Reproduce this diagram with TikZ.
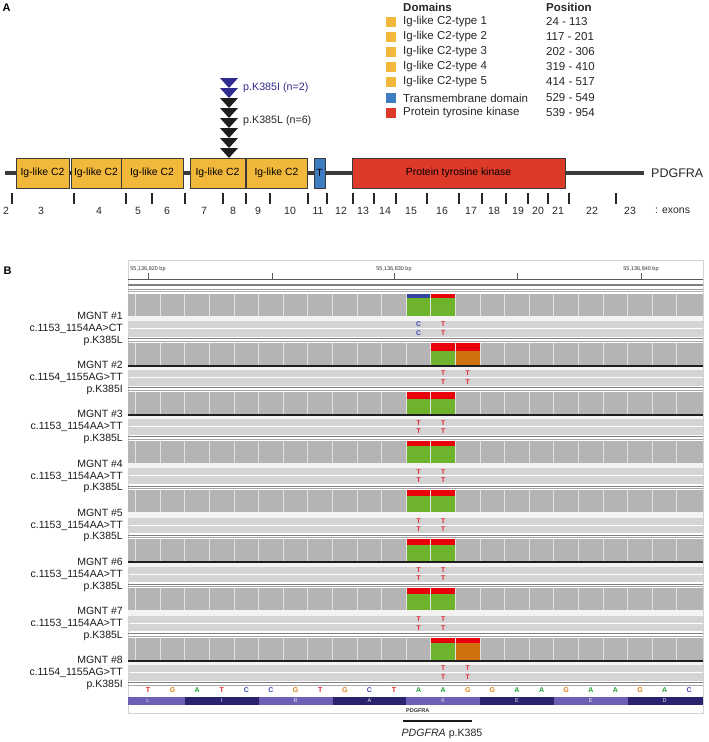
\documentclass[tikz,border=0pt]{standalone}
\usepackage{fontspec}
\setmainfont{Liberation Sans}
\definecolor{igy}{HTML}{F1B83B}
\definecolor{tmb}{HTML}{3F7DC3}
\definecolor{ptk}{HTML}{DD3A2A}
\definecolor{bb}{HTML}{3A3A3A}
\definecolor{mutblue}{HTML}{2F2A8E}
\definecolor{mutblk}{HTML}{1E1E1E}
\definecolor{covg}{HTML}{B4B4B4}
\definecolor{covsep}{HTML}{E2E2E2}
\definecolor{readg}{HTML}{D4D4D4}
\definecolor{gapg}{HTML}{F3F3F3}
\definecolor{vred}{HTML}{E8000B}
\definecolor{vgreen}{HTML}{6DB32C}
\definecolor{vorange}{HTML}{D1700F}
\definecolor{vblue}{HTML}{36459E}
\definecolor{lA}{HTML}{1FA030}
\definecolor{lC}{HTML}{3A46B8}
\definecolor{lG}{HTML}{E0801A}
\definecolor{lT}{HTML}{E8202A}
\definecolor{aal}{HTML}{6E5FB6}
\definecolor{aad}{HTML}{2A226F}
\newcommand\fsz[1]{\fontsize{#1}{#1}\selectfont}
\begin{document}
\begin{tikzpicture}[x=1pt,y=-1pt,every node/.style={inner sep=0pt},
  dombox/.style={draw=bb,line width=0.9pt,minimum height=30pt,font=\fsz{10.4}},
  legsq/.style={minimum width=10pt,minimum height=10pt},
  legtxt/.style={font=\fsz{11.5},anchor=west,text=black!85},
  leghead/.style={font=\bfseries\fsz{11.5},anchor=west,text=black!85},
  exonnum/.style={font=\fsz{10.5},text=black!85},
  exontick/.style={draw=black!85,line width=2pt},
  lbl/.style={font=\fsz{10.5},anchor=base east,text=black!90},
  rulelbl/.style={font=\fsz{5.5},anchor=base,text=black!80},
  seqlet/.style={font=\bfseries\fsz{7}},
  readlet/.style={font=\bfseries\fsz{6.8}},
  aalet/.style={font=\fsz{5.5},text=white!85!gray},
  panlbl/.style={font=\bfseries\fsz{11}}]
\useasboundingbox (0,0) rectangle (709,742);
% ---------- Panel A ----------
\node[panlbl] (pA) at (6.5,7.5) {A};
% legend
\node[leghead] (lhd) at (403,7) {Domains};
\node[leghead] (lhp) at (546,7) {Position};
\foreach \y/\c/\t/\p [count=\n] in {22/igy/Ig-like C2-type 1/24 - 113,
  37/igy/Ig-like C2-type 2/117 - 201,
  52/igy/Ig-like C2-type 3/202 - 306,
  67/igy/Ig-like C2-type 4/319 - 410,
  82/igy/Ig-like C2-type 5/414 - 517,
  98/tmb/Transmembrane domain/529 - 549,
  113/ptk/Protein tyrosine kinase/539 - 954}{
  \node[legsq,fill=\c] (lsq\n) at (391,\y) {};
  \node[legtxt] (ltx\n) at (403,\y) {\t};
  \node[legtxt] (lps\n) at (546,\y) {\p};
}
% mutation triangles
\foreach \i in {0,...,7}{
  \pgfmathsetmacro\ty{78+10*\i}
  \ifnum\i<2 \def\tc{mutblue}\else\def\tc{mutblk}\fi
  \fill[\tc] (220,\ty) -- (238,\ty) -- (229,{\ty+10}) -- cycle;
}
\node[font=\fsz{10.7},text=mutblue,anchor=west] (mI) at (243,88) {p.K385I (n=2)};
\node[font=\fsz{10.7},text=black!85,anchor=west] (mL) at (243,121) {p.K385L (n=6)};
% backbone
\coordinate (bbL) at (5,173);
\coordinate (bbR) at (644,173);
\draw[bb,line width=3.5pt] (bbL) -- (bbR);
\node[dombox,fill=igy,minimum width=53pt] (d1) at (42.5,173) {Ig-like C2};
\node[dombox,fill=igy,minimum width=50pt] (d2) at (96,173) {Ig-like C2};
\node[dombox,fill=igy,minimum width=62pt] (d3) at (152,173) {Ig-like C2};
\node[dombox,fill=igy,minimum width=55pt] (d4) at (217.5,173) {Ig-like C2};
\node[dombox,fill=igy,minimum width=61pt] (d5) at (276.5,173) {Ig-like C2};
\node[dombox,fill=tmb,minimum width=11pt] (dT) at (319.5,173) {T};
\node[dombox,fill=ptk,minimum width=213pt] (dK) at (458.5,173) {Protein tyrosine kinase};
\node[font=\fsz{12.5},anchor=west,text=black!85] (gene) at (651,173) {PDGFRA};
% exon ticks and numbers
\foreach \x in {12,74,126,152,185,223,246,270,308,327,353,374,396,427,459,482,506,528,548,569,616}
  \draw[exontick] (\x,193) -- (\x,204);
\foreach \x/\n in {6/2,41/3,99/4,138/5,167/6,204/7,233/8,258/9,290/10,318/11,341/12,363/13,385/14,411/15,442/16,471/17,494/18,518/19,538/20,558/21,592/22,630/23}
  \node[exonnum] (ex\n) at (\x,211) {\n};
\node[exonnum,anchor=west] (exl) at (655,211) {: exons};
% ---------- Panel B ----------
\node[panlbl] (pB) at (7.5,271) {B};
\fill[white] (128,260) rectangle (703,713);
\draw[gray!35,line width=0.6pt] (128,260) rectangle (703,713);
% ruler
\draw[black!65,line width=0.7pt] (128,279) -- (703,279);
\foreach \x in {148,272,394,517,641}
  \draw[black!65,line width=0.7pt] (\x,273) -- (\x,279);
\node[rulelbl] (r1) at (148,270) {55,136,820 bp};
\node[rulelbl] (r2) at (394,270) {55,136,830 bp};
\node[rulelbl] (r3) at (641,270) {55,136,840 bp};
\draw[black!50,line width=1.8pt] (128,285) -- (703,285);
\draw[black!40,line width=0.7pt] (128,289) -- (703,289);
\draw[black!30,line width=0.7pt] (128,291.5) -- (703,291.5);
% sample blocks
\foreach \k/\ba/\tca/\bcb/\h/\la/\lca/\cl/\pl/\bl in {
  0/11/vblue/vgreen/4.5/C/lC/{c.1153\_1154AA>CT}/p.K385L/0,
  1/12/vred/vorange/8.5/T/lT/{c.1154\_1155AG>TT}/p.K385I/1,
  2/11/vred/vgreen/7.5/T/lT/{c.1153\_1154AA>TT}/p.K385L/1,
  3/11/vred/vgreen/5/T/lT/{c.1153\_1154AA>TT}/p.K385L/0,
  4/11/vred/vgreen/6/T/lT/{c.1153\_1154AA>TT}/p.K385L/0,
  5/11/vred/vgreen/6/T/lT/{c.1153\_1154AA>TT}/p.K385L/1,
  6/11/vred/vgreen/6/T/lT/{c.1153\_1154AA>TT}/p.K385L/0,
  7/12/vred/vorange/5/T/lT/{c.1154\_1155AG>TT}/p.K385I/1}{
  \pgfmathsetmacro\T{293.5+49.15*\k}
  \pgfmathsetmacro\Tb{\T+22}
  \pgfmathsetmacro\Th{\T+\h}
  \pgfmathsetmacro\xa{135.7+24.6*\ba}
  \pgfmathsetmacro\xb{\xa+24.6}
  \pgfmathsetmacro\xc{\xa+49.2}
  \pgfmathtruncatemacro\kk{\k+1}
  \fill[gapg] (128,\Tb) rectangle (703,{\T+27.5});
  \fill[covg] (128,\T) rectangle (703,\Tb);
  \fill[\tca] (\xa,\T) rectangle (\xb,\Th);
  \fill[vgreen] (\xa,\Th) rectangle (\xb,\Tb);
  \fill[vred] (\xb,\T) rectangle (\xc,\Th);
  \fill[\bcb] (\xb,\Th) rectangle (\xc,\Tb);
  \foreach \j in {0,...,22}
    \draw[covsep,line width=0.9pt] ({135.7+24.6*\j},\T) -- ({135.7+24.6*\j},\Tb);
  \ifnum\bl=1 \fill[black!88] (128,\Tb) rectangle (703,{\T+24}); \fi
  \fill[readg] (128,{\T+27.5}) rectangle (703,{\T+34.5});
  \fill[readg] (128,{\T+35.5}) rectangle (703,{\T+43});
  \node[readlet,text=\lca] (ra\k) at ({\xa+12.3},{\T+31}) {\la};
  \node[readlet,text=lT] (rb\k) at ({\xb+12.3},{\T+31}) {T};
  \node[readlet,text=\lca] (rc\k) at ({\xa+12.3},{\T+39.3}) {\la};
  \node[readlet,text=lT] (rd\k) at ({\xb+12.3},{\T+39.3}) {T};
  \draw[black!50,line width=0.9pt] (128,{\T+45}) -- (703,{\T+45});
  \draw[black!35,line width=0.8pt] (128,{\T+47.5}) -- (703,{\T+47.5});
  \node[lbl] (mg\k) at (123,{319.5+49.2*\k}) {MGNT \#\kk};
  \node[lbl] (cl\k) at (123,{331.5+49.2*\k}) {\cl};
  \node[lbl] (pl\k) at (123,{343+49.2*\k}) {\pl};
}
% reference sequence
\foreach \b [count=\i from 0] in {T,G,A,T,C,C,G,T,G,C,T,A,A,G,G,A,A,G,A,A,G,A,C}
  \node[seqlet,text=l\b] (s\i) at ({148+24.6*\i},690) {\b};
% amino acids
\foreach \xa/\xb/\c/\a/\m [count=\n] in {128/184.9/aal/L/148,184.9/258.7/aad/I/221.8,
  258.7/332.5/aal/R/295.6,332.5/406.3/aad/A/369.4,406.3/480.1/aal/K/443.2,
  480.1/553.9/aad/E/517,553.9/627.7/aal/E/590.8,627.7/703/aad/D/664.6}{
  \fill[\c] (\xa,697) rectangle (\xb,705);
  \node[aalet] (aa\n) at (\m,701) {\a};
}
\node[font=\bfseries\fsz{5.5},anchor=west,text=black!80] (gn) at (406,711) {PDGFRA};
\coordinate (ulL) at (403,721);
\coordinate (ulR) at (472,721);
\draw[black!90,line width=2pt] (ulL) -- (ulR);
\node[font=\fsz{10.6},text=black!85] (cap) at (442,734) {\textit{PDGFRA} p.K385};
\end{tikzpicture}
\end{document}
